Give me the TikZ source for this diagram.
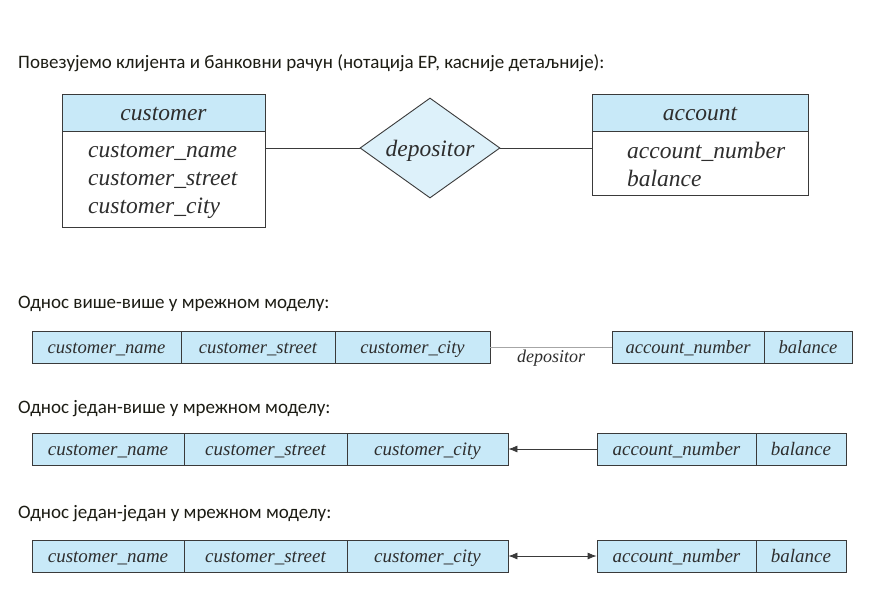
\documentclass[tikz,border=0pt]{standalone}
\usepackage{fontspec}
\setmainfont{Liberation Serif}
\newfontfamily\headfont{Carlito}
\usetikzlibrary{shapes.geometric,arrows.meta}
\definecolor{boxblue}{HTML}{C8E9F8}
\definecolor{diablue}{HTML}{DDF1FA}
\definecolor{edgecol}{HTML}{3A3A3A}
\definecolor{txtcol}{HTML}{2E2E2E}
\definecolor{headcol}{HTML}{1C1C14}
\begin{document}
\begin{tikzpicture}[x=1pt,y=-1pt,
  heading/.style={anchor=base west,inner sep=0pt,font=\headfont\fontsize{19}{22}\selectfont,text=headcol},
  erhead/.style={draw=edgecol,line width=0.9pt,fill=boxblue,inner sep=0pt,text height=16pt,text depth=1pt,font=\itshape\fontsize{23.5}{28}\selectfont,text=txtcol},
  erbody/.style={draw=edgecol,line width=0.9pt,fill=white,inner sep=0pt},
  ertext/.style={anchor=base west,inner sep=0pt,align=left,font=\itshape\fontsize{23.5}{28}\selectfont,text=txtcol},
  cell/.style={draw=edgecol,line width=0.8pt,fill=boxblue,inner sep=0pt,minimum height=32pt,text height=13pt,text depth=1pt,font=\itshape\fontsize{19}{22}\selectfont,text=txtcol},
  cellsm/.style={cell,font=\itshape\fontsize{18.6}{22}\selectfont},
  conn/.style={draw=edgecol,line width=0.9pt},
  arr/.style={draw=edgecol,line width=0.8pt,-{Latex[length=9pt,width=7pt]}},
  darr/.style={draw=edgecol,line width=0.8pt,{Latex[length=9pt,width=7pt]}-{Latex[length=9pt,width=7pt]}}
]
\useasboundingbox (0,0) rectangle (874,589);
\fill[white] (0,0) rectangle (874,589);

% headings
\node[heading] (h1) at (18,68) {Повезујемо клијента и банковни рачун (нотација ЕР, касније детаљније):};
\node[heading] (h2) at (18,308) {Однос више-више у мрежном моделу:};
\node[heading] (h3) at (18,413) {Однос један-више у мрежном моделу:};
\node[heading] (h4) at (18,518) {Однос један-један у мрежном моделу:};

% ER diagram
\node[erhead,minimum width=203pt,minimum height=37pt] (custh) at (163.5,112.5) {customer};
\node[erbody,minimum width=203pt,minimum height=96pt] (custb) at (163.5,179) {};
\node[ertext] (custt) at (88,213) {customer\_name\\customer\_street\\customer\_city};
\node[erhead,minimum width=216pt,minimum height=37pt] (acch) at (700,112.5) {account};
\node[erbody,minimum width=216pt,minimum height=64pt] (accb) at (700,163) {};
\node[ertext] (acct) at (627,186) {account\_number\\balance};
\node[diamond,draw=edgecol,line width=0.9pt,fill=diablue,aspect=1.4,minimum width=140pt,minimum height=100pt,inner sep=0pt,text height=16pt,text depth=0pt,font=\itshape\fontsize{23.5}{28}\selectfont,text=txtcol] (dep) at (430,148) {depositor};
\draw[conn] (custb.east |- dep.west) -- (dep.west);
\draw[conn] (dep.east) -- (accb.west |- dep.east);

% many-many
\node[cellsm,minimum width=149pt] (m1) at (106.5,347) {customer\_name};
\node[cellsm,minimum width=154pt] (m2) at (258,347) {customer\_street};
\node[cellsm,minimum width=155pt] (m3) at (412.5,347) {customer\_city};
\node[cellsm,minimum width=152pt] (m4) at (688,347) {account\_number};
\node[cellsm,minimum width=88pt] (m5) at (808,347) {balance};
\draw[draw=gray!70,line width=0.9pt] (m3.east) -- node[below=3pt,inner sep=0pt,font=\itshape\fontsize{18}{20}\selectfont,text=txtcol] (mlab) {depositor} (m4.west);

% one-many
\node[cell,minimum width=152pt] (o1) at (108,449) {customer\_name};
\node[cell,minimum width=163pt] (o2) at (265.5,449) {customer\_street};
\node[cell,minimum width=161pt] (o3) at (427.5,449) {customer\_city};
\node[cell,minimum width=159pt] (o4) at (676.5,449) {account\_number};
\node[cell,minimum width=90pt] (o5) at (801,449) {balance};
\draw[arr] (o4.west) -- (o3.east);

% one-one
\node[cell,minimum width=152pt] (p1) at (108,556) {customer\_name};
\node[cell,minimum width=163pt] (p2) at (265.5,556) {customer\_street};
\node[cell,minimum width=161pt] (p3) at (427.5,556) {customer\_city};
\node[cell,minimum width=159pt] (p4) at (676.5,556) {account\_number};
\node[cell,minimum width=90pt] (p5) at (801,556) {balance};
\draw[darr] (p3.east) -- (p4.west);
\end{tikzpicture}
\end{document}
